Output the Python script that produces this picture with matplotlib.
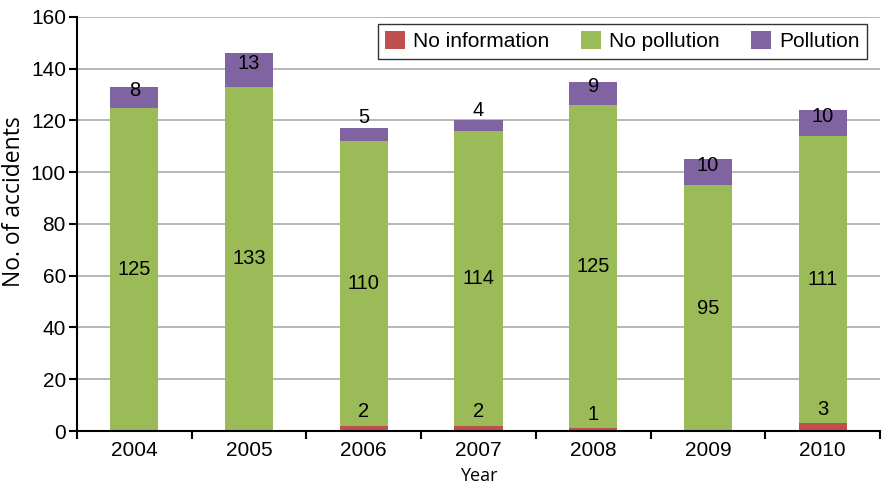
import matplotlib.pyplot as plt
import numpy as np

plt.rcParams['font.family'] = ['Liberation Sans', 'DejaVu Sans']

years = ['2004', '2005', '2006', '2007', '2008', '2009', '2010']
no_info = [0, 0, 2, 2, 1, 0, 3]
no_pollution = [125, 133, 110, 114, 125, 95, 111]
pollution = [8, 13, 5, 4, 9, 10, 10]

c_info = '#c0504d'
c_nopol = '#9bbb59'
c_pol = '#8064a2'

fig = plt.figure(figsize=(8.82, 4.84), dpi=100)
ax = fig.add_axes([0.0873, 0.1095, 0.9104, 0.8554])

x = np.arange(len(years))
w = 0.42
info = np.array(no_info)
nopol = np.array(no_pollution)
pol = np.array(pollution)

ax.bar(x, info, w, color=c_info, label='No information', zorder=3)
ax.bar(x, nopol, w, bottom=info, color=c_nopol, label='No pollution', zorder=3)
ax.bar(x, pol, w, bottom=info + nopol, color=c_pol, label='Pollution', zorder=3)

fs = 14.5
for i in range(len(years)):
    if info[i] > 0:
        ax.text(x[i], info[i] + 5.5, str(info[i]), ha='center', va='center', fontsize=fs, zorder=4)
    ax.text(x[i], info[i] + nopol[i] / 2, str(nopol[i]), ha='center', va='center', fontsize=fs, zorder=4)
    top = info[i] + nopol[i] + pol[i]
    if pol[i] >= 8:
        ypos = info[i] + nopol[i] + pol[i] / 2 + 2.5
    else:
        ypos = top + 4
    ax.text(x[i], ypos, str(pol[i]), ha='center', va='center', fontsize=fs, zorder=4)

ax.set_xlim(-0.5, len(years) - 0.5)
ax.set_ylim(0, 160)
ax.set_yticks(range(0, 161, 20))
ax.set_xticks(x)
ax.set_xticklabels(years)
ax.set_xticks(np.arange(-0.5, len(years), 1), minor=True)
ax.tick_params(axis='x', which='major', length=0, labelsize=15, pad=7)
ax.tick_params(axis='x', which='minor', length=6, width=1.5, direction='out', color='black')
ax.tick_params(axis='y', length=6, width=1.5, direction='out', labelsize=15, pad=2)

ax.grid(axis='y', color='#aaaaaa', linewidth=1.2, zorder=0)
for s in ['top', 'right']:
    ax.spines[s].set_visible(False)
for s in ['left', 'bottom']:
    ax.spines[s].set_linewidth(1.5)
    ax.spines[s].set_zorder(5)

ax.set_xlabel('Year', fontsize=13, labelpad=5, family=['Open Sans', 'DejaVu Sans'])
ax.set_ylabel('No. of accidents', fontsize=16.5, family=['Open Sans', 'DejaVu Sans'])
ax.yaxis.set_label_coords(-0.064, 0.554)

leg = ax.legend(loc='upper right', bbox_to_anchor=(0.9835, 0.983), ncol=3, fontsize=15,
                frameon=True, fancybox=False, edgecolor='black', handlelength=0.95,
                handleheight=0.95, columnspacing=1.5, handletextpad=0.4, borderpad=0.35,
                borderaxespad=0)
leg.get_frame().set_linewidth(1.0)

fig.savefig('out.png', dpi=100)
